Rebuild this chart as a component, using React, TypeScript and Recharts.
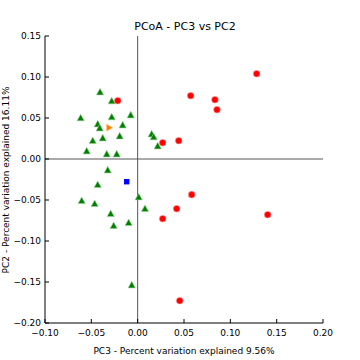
import React from "react"
import {
  ScatterChart,
  Scatter,
  XAxis,
  YAxis,
  ReferenceLine,
} from "recharts"

// PCoA coordinates (PC3, PC2)
const greenX = [-0.0406, -0.028, -0.0615, -0.0431, -0.041, -0.028, -0.0075, -0.0162, -0.0194, -0.0377, -0.0485, -0.055, -0.0334, -0.0226, 0.0151, 0.0173, 0.0216, -0.0323, -0.0431, -0.0604, -0.0464, -0.0291, -0.0259, -0.0097, 0.0011, 0.0079, -0.0064]
const greenY = [0.0813, 0.0704, 0.0497, 0.0423, 0.0374, 0.0509, 0.0533, 0.0411, 0.0277, 0.0252, 0.022, 0.0094, 0.0057, 0.0057, 0.0301, 0.0265, 0.0155, -0.0138, -0.0317, -0.0512, -0.0549, -0.0671, -0.0817, -0.078, -0.0467, -0.061, -0.154]

const redX = [-0.0215, 0.0572, 0.0834, 0.0856, 0.1284, 0.027, 0.0443, 0.027, 0.0421, 0.0583, 0.0454, 0.1403]
const redY = [0.0711, 0.0772, 0.0723, 0.0601, 0.104, 0.0199, 0.0223, -0.0728, -0.0606, -0.0435, -0.1728, -0.0679]

const orangeX = [-0.0309]
const orangeY = [0.0382]

const blueX = [-0.0118]
const blueY = [-0.0277]

const xTicks = [-0.1, -0.05, 0, 0.05, 0.1, 0.15, 0.2]
const yTicks = [-0.2, -0.15, -0.1, -0.05, 0, 0.05, 0.1, 0.15]

const zip = (xs: number[], ys: number[]) => xs.map((x, i) => ({ x, y: ys[i] }))

const fmt = (v: number) => v.toFixed(2).replace("-", "\u2212")

const FONT = "DejaVu Sans, sans-serif"
const FRAME = "#000"

const TriUp = (color: string) => (p: any) => (
  <polygon
    points={`${p.cx},${p.cy - 4} ${p.cx - 3.6},${p.cy + 2.6} ${p.cx + 3.6},${p.cy + 2.6}`}
    fill={color}
    stroke="#9fd09f"
    strokeWidth={0.6}
  />
)

const TriRight = (color: string) => (p: any) => (
  <polygon
    points={`${p.cx + 4},${p.cy} ${p.cx - 2.6},${p.cy - 3.6} ${p.cx - 2.6},${p.cy + 3.6}`}
    fill={color}
    stroke="#ffd0a0"
    strokeWidth={0.6}
  />
)

const Dot = (color: string) => (p: any) => (
  <circle cx={p.cx} cy={p.cy} r={3.3} fill={color} stroke="#ff9090" strokeWidth={0.6} />
)

const Square = (color: string) => (p: any) => (
  <rect x={p.cx - 2.7} y={p.cy - 2.7} width={5.4} height={5.4} fill={color} />
)

const noLabel = () => <g />

export default function App() {
  return (
    <div style={{ position: "absolute", left: 0, top: 0, width: 360, height: 360, background: "#fff" }}>
      <ScatterChart width={360} height={360} margin={{ top: 36, right: 37, bottom: 0, left: 0 }}>
        <XAxis
          xAxisId="b"
          type="number"
          dataKey="x"
          domain={[-0.1, 0.2]}
          ticks={xTicks}
          allowDataOverflow
          height={37}
          tickSize={-4}
          tickMargin={11}
          tickFormatter={fmt}
          tick={{ fill: "#000", fontSize: 9, fontFamily: FONT }}
          axisLine={{ stroke: FRAME }}
          tickLine={{ stroke: FRAME }}
          label={{ value: "PC3 - Percent variation explained 9.56%", position: "insideBottom", offset: 6, fill: "#000", fontSize: 9, fontFamily: FONT }}
        />
        <XAxis
          xAxisId="t"
          orientation="top"
          type="number"
          domain={[-0.1, 0.2]}
          ticks={xTicks}
          allowDataOverflow
          height={0}
          tickSize={-4}
          tick={noLabel}
          axisLine={{ stroke: FRAME }}
          tickLine={{ stroke: FRAME }}
        />
        <YAxis
          yAxisId="l"
          type="number"
          dataKey="y"
          domain={[-0.2, 0.15]}
          ticks={yTicks}
          allowDataOverflow
          width={45}
          tickSize={-4}
          tickMargin={8}
          tickFormatter={fmt}
          tick={{ fill: "#000", fontSize: 9, fontFamily: FONT }}
          axisLine={{ stroke: FRAME }}
          tickLine={{ stroke: FRAME }}
        />
        <YAxis
          yAxisId="r"
          orientation="right"
          type="number"
          domain={[-0.2, 0.15]}
          ticks={yTicks}
          allowDataOverflow
          width={0}
          tickSize={-4}
          tick={noLabel}
          axisLine={{ stroke: FRAME }}
          tickLine={{ stroke: FRAME }}
        />
        <ReferenceLine xAxisId="b" yAxisId="l" x={0} stroke="#555" strokeWidth={1} />
        <ReferenceLine xAxisId="b" yAxisId="l" y={0} stroke="#555" strokeWidth={1} />
        <Scatter xAxisId="b" yAxisId="l" data={zip(greenX, greenY)} shape={TriUp("#008000")} isAnimationActive={false} />
        <Scatter xAxisId="b" yAxisId="l" data={zip(redX, redY)} shape={Dot("#ff0000")} isAnimationActive={false} />
        <Scatter xAxisId="b" yAxisId="l" data={zip(orangeX, orangeY)} shape={TriRight("#ff8000")} isAnimationActive={false} />
        <Scatter xAxisId="b" yAxisId="l" data={zip(blueX, blueY)} shape={Square("#0000ff")} isAnimationActive={false} />
        <text x={185} y={30} textAnchor="middle" fontSize={11} fontFamily={FONT} fill="#000">
          PCoA - PC3 vs PC2
        </text>
        <text
          x={9}
          y={180}
          transform="rotate(-90, 9, 180)"
          textAnchor="middle"
          fontSize={9}
          fontFamily={FONT}
          fill="#000"
        >
          PC2 - Percent variation explained 16.11%
        </text>
      </ScatterChart>
    </div>
  )
}
